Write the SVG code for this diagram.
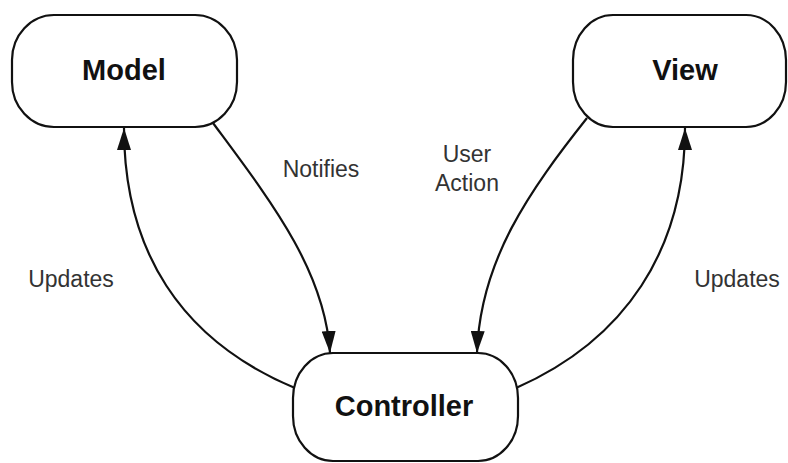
<svg xmlns="http://www.w3.org/2000/svg" width="788" height="463" viewBox="0 0 788 463">
<defs>
<style>
.node{fill:#fff;stroke:#111;stroke-width:2.2}
.title{font-family:"Liberation Sans",Arial,sans-serif;font-weight:bold;font-size:29px;fill:#111;text-anchor:middle}
.lbl{font-family:"Liberation Sans",Arial,sans-serif;font-size:23px;fill:#333;text-anchor:middle}
.edge{fill:none;stroke:#111;stroke-width:2.2}
</style>
<marker id="arr" viewBox="0 0 22 14" refX="22" refY="7" markerWidth="22" markerHeight="14" markerUnits="userSpaceOnUse" orient="auto">
<path d="M0,0 L22,7 L0,14 Z" fill="#111"/>
</marker>
</defs>
<rect width="788" height="463" fill="#fff"/>
<g id="connectors">
<path class="edge" d="M295 388 C180 340 124 250 124 128" marker-end="url(#arr)"/>
<path class="edge" d="M213 123 C270 200 325 270 330 353" marker-end="url(#arr)"/>
<path class="edge" d="M587 118 C530 190 480 260 477 353" marker-end="url(#arr)"/>
<path class="edge" d="M516 388 C625 340 685 250 685 128" marker-end="url(#arr)"/>
</g>
<g id="model">
<rect class="node" x="12" y="15" width="225" height="112" rx="42" ry="45"/>
<text class="title" x="124" y="80">Model</text>
</g>
<g id="view">
<rect class="node" x="573" y="15" width="213" height="112" rx="40" ry="45"/>
<text class="title" x="685" y="80">View</text>
</g>
<g id="controller">
<rect class="node" x="293" y="353" width="225" height="108" rx="40" ry="45"/>
<text class="title" x="404" y="416">Controller</text>
</g>
<g id="labels">
<text class="lbl" x="321" y="177">Notifies</text>
<text class="lbl" x="467" y="162">User</text>
<text class="lbl" x="467" y="191">Action</text>
<text class="lbl" x="71" y="287">Updates</text>
<text class="lbl" x="737" y="287">Updates</text>
</g>
</svg>
